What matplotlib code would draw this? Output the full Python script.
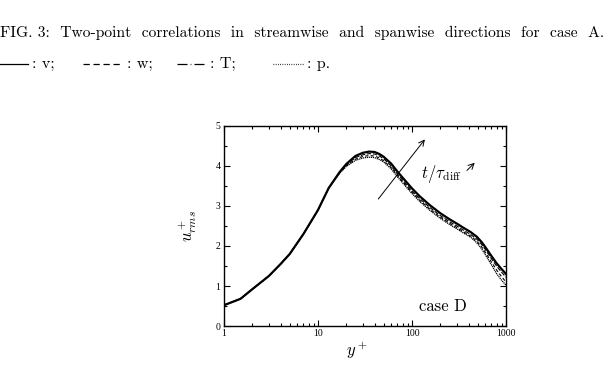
import numpy as np
import matplotlib
matplotlib.use("Agg")
from matplotlib import pyplot as plt
from matplotlib.lines import Line2D

plt.rcParams["mathtext.fontset"] = "cm"
plt.rcParams["font.family"] = ["Liberation Serif", "DejaVu Serif"]

# y+ positions and u+_rms profiles (4 times, latest is thickest)
yplus = [1, 1.5, 2, 3, 4, 5, 7, 10, 13, 17, 20, 25, 30, 35, 40, 45, 50, 60, 70, 85, 100,
         120, 155, 200, 250, 300, 350, 420, 490, 550, 600, 700, 800, 900, 1000]
u_t4 = [0.52, 0.68, 0.92, 1.25, 1.55, 1.8, 2.3, 2.9, 3.45, 3.85, 4.05, 4.25, 4.33, 4.36, 4.35, 4.3, 4.23, 4.06, 3.86, 3.63, 3.44,
        3.25, 3.02, 2.82, 2.67, 2.56, 2.46, 2.35, 2.23, 2.1, 1.98, 1.75, 1.56, 1.42, 1.3]
u_t3 = [0.52, 0.68, 0.92, 1.25, 1.55, 1.8, 2.3, 2.9, 3.45, 3.84, 4.03, 4.21, 4.28, 4.31, 4.3, 4.25, 4.18, 4.0, 3.8, 3.57, 3.38,
        3.19, 2.96, 2.76, 2.61, 2.5, 2.4, 2.29, 2.17, 2.04, 1.92, 1.68, 1.49, 1.34, 1.22]
u_t2 = [0.52, 0.68, 0.92, 1.25, 1.55, 1.8, 2.3, 2.9, 3.45, 3.83, 4.01, 4.17, 4.24, 4.26, 4.25, 4.2, 4.13, 3.96, 3.76, 3.53, 3.34,
        3.15, 2.92, 2.72, 2.57, 2.46, 2.36, 2.25, 2.12, 1.98, 1.85, 1.6, 1.39, 1.23, 1.1]
u_t1 = [0.52, 0.68, 0.92, 1.25, 1.55, 1.8, 2.3, 2.9, 3.45, 3.82, 3.99, 4.14, 4.2, 4.22, 4.21, 4.16, 4.1, 3.93, 3.73, 3.5, 3.31,
        3.12, 2.89, 2.69, 2.54, 2.43, 2.33, 2.22, 2.08, 1.93, 1.79, 1.53, 1.3, 1.14, 1.02]

xticks = [1, 10, 100, 1000]
xticklabels = ["1", "10", "100", "1000"]
yticks = [0, 1, 2, 3, 4, 5]

caption = "FIG. 3:  Two-point  correlations  in  streamwise  and  spanwise  directions  for  case  A."

W, H = 615, 366
fig = plt.figure(figsize=(W / 100, H / 100), dpi=100)

# caption above the plot, shrunk so it spans the page width like the scan
cap = fig.text(0, 1 - 33 / H, caption, family="cmr10", fontsize=12, va="center", ha="left")
r = fig.canvas.get_renderer()
wpx = cap.get_window_extent(renderer=r).width
cap.set_fontsize(12 * 604 / wpx)

ly = 1 - 64 / H
leg = [((0, 28), "-", ": v;", 32),
       ((83, 120), (0, (5, 3)), ": w;", 127),
       ((177, 204), (0, (8, 2.5, 0.6, 2.5)), ": T;", 210),
       ((273, 303), (0, (0.6, 1.2)), ": p.", 307)]
for (x0, x1), ls, lab, tx in leg:
    fig.add_artist(Line2D([x0 / W, x1 / W], [ly, ly], color="black", lw=0.9, linestyle=ls))
    fig.text(tx / W, ly, lab, family="cmr10", fontsize=11.5, va="center", ha="left")

ax = fig.add_axes([224 / W, 1 - 326 / H, 282 / W, 200 / H])
ax.plot(yplus, u_t1, color="black", lw=0.9, linestyle=(0, (1, 0.6)))
ax.plot(yplus, u_t2, color="black", lw=0.8, linestyle=(0, (3, 2)))
ax.plot(yplus, u_t3, color="black", lw=0.8, linestyle=(0, (4, 1.5)))
ax.plot(yplus, u_t4, color="black", lw=1.6)

ax.set_xscale("log")
ax.set_xlim(1, 1000)
ax.set_ylim(0, 5)
ax.set_xticks(xticks)
ax.set_xticklabels(xticklabels)
ax.set_yticks(yticks)
ax.set_yticks(np.arange(0.5, 5, 1.0), minor=True)
ax.tick_params(which="both", direction="in", top=True, right=True, labelsize=7, width=0.8)
ax.tick_params(which="major", length=4, pad=2.5)
ax.tick_params(which="minor", length=2)
for s in ax.spines.values():
    s.set_linewidth(1.0)

ax.annotate("", xy=(143, 4.72), xytext=(42, 3.12),
            arrowprops=dict(arrowstyle="->", color="black", lw=0.7))
ax.text(125, 3.8, r"$t/\tau_{\mathrm{diff}}$", fontsize=12, va="center", ha="left")
ax.annotate("", xy=(488, 4.13), xytext=(366, 3.84),
            arrowprops=dict(arrowstyle="->", color="black", lw=0.7))
ax.text(119, 0.5, "case D", family="cmr10", fontsize=12, va="center", ha="left")

fig.text(188 / W, 1 - 226 / H, r"$u^+_{rms}$", fontsize=12, rotation=90, va="center", ha="center")
fig.text(357 / W, 1 - 350 / H, r"$y^+$", fontsize=12, va="center", ha="center")

fig.savefig("out.png", dpi=100)
